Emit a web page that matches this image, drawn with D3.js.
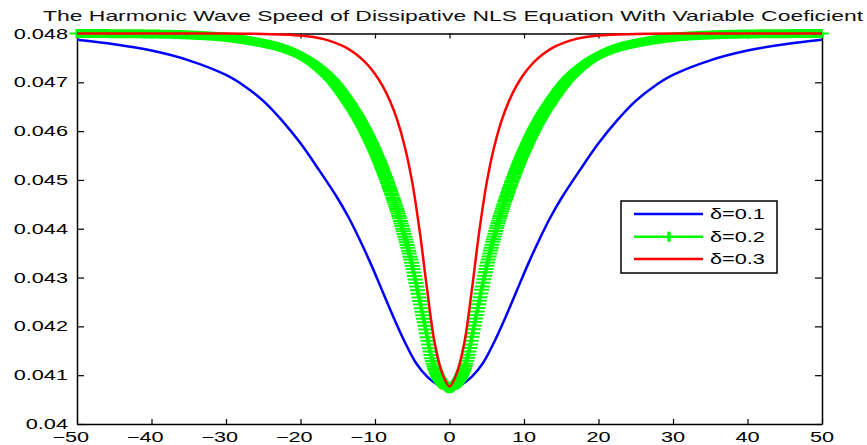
<!DOCTYPE html>
<html><head><meta charset="utf-8">
<script src="https://cdn.jsdelivr.net/npm/d3@7"></script>
<style>body{margin:0;background:#fff}svg{display:block}</style>
</head><body>
<svg id="chart" width="867" height="445"></svg>
<script>
// ---------- data ----------
const titleText = "The Harmonic Wave Speed of Dissipative NLS Equation With Variable Coeficient";
const xTickValues = [-50,-40,-30,-20,-10,0,10,20,30,40,50];
const xTickLabels = ["\u221250","\u221240","\u221230","\u221220","\u221210","0","10","20","30","40","50"];
const yTickValues = [0.040,0.041,0.042,0.043,0.044,0.045,0.046,0.047,0.048];
const yTickLabels = ["0.04","0.041","0.042","0.043","0.044","0.045","0.046","0.047","0.048"];
const legendLabels = ["\u03b4=0.1","\u03b4=0.2","\u03b4=0.3"];

const blueX = [-50,-45,-40,-35,-30,-27.5,-25,-22.5,-20,-17.5,-15,-13.5,-12,-10.5,-9,-7.5,-6,-4.5,-3,-1.5,0,1.5,3,4.5,6,7.5,9,10.5,12,13.5,15,17.5,20,22.5,25,27.5,30,35,40,45,50];
const blueY = [0.04787,0.04778,0.04765,0.04745,0.04715,0.04692,0.04662,0.04622,0.04575,0.04520,0.04462,0.04422,0.04376,0.04326,0.04272,0.04218,0.04168,0.04125,0.04097,0.04080,0.04075,0.04080,0.04097,0.04125,0.04168,0.04218,0.04272,0.04326,0.04376,0.04422,0.04462,0.04520,0.04575,0.04622,0.04662,0.04692,0.04715,0.04745,0.04765,0.04778,0.04787];

const greenX = [-50,-40,-35,-30,-25,-22,-19,-16,-14,-12,-10,-8.5,-7,-6,-5,-3.5,-2,-1,0,1,2,3.5,5,6,7,8.5,10,12,14,16,19,22,25,30,35,40,50];
const greenY = [0.04800,0.04799,0.04797,0.04792,0.04780,0.04768,0.04746,0.04708,0.04669,0.04621,0.04559,0.04502,0.04436,0.04384,0.04324,0.04216,0.04114,0.04084,0.04072,0.04084,0.04114,0.04216,0.04324,0.04384,0.04436,0.04502,0.04559,0.04621,0.04669,0.04708,0.04746,0.04768,0.04780,0.04792,0.04797,0.04799,0.04800];

const redX = [-50,-40,-30,-25,-20,-17,-14,-12,-11,-10,-9,-8,-7,-6,-5,-4,-3,-2,-1,0,1,2,3,4,5,6,7,8,9,10,11,12,14,17,20,25,30,40,50];
const redY = [0.04800,0.04800,0.04800,0.04799,0.04796,0.04789,0.04772,0.04751,0.04736,0.04717,0.04693,0.04662,0.04622,0.04568,0.04495,0.04395,0.04275,0.04167,0.04105,0.04077,0.04105,0.04167,0.04275,0.04395,0.04495,0.04568,0.04622,0.04662,0.04693,0.04717,0.04736,0.04751,0.04772,0.04789,0.04796,0.04799,0.04800,0.04800,0.04800];

// ---------- layout ----------
const FONT = "'Liberation Sans', Arial, Helvetica, sans-serif";
const SX = 1.55;
const svg = d3.select("#chart");
const x = d3.scaleLinear().domain([-50,50]).range([77,822]);
const y = d3.scaleLinear().domain([0.040,0.048]).range([424,33.5]);

const axG = svg.append("g");
axG.append("g").attr("transform",`translate(0,${y(0.040)})`)
  .call(d3.axisBottom(x).tickValues(xTickValues).tickSizeInner(-5).tickSizeOuter(0).tickFormat(""));
axG.append("g").attr("transform",`translate(0,${y(0.048)})`)
  .call(d3.axisTop(x).tickValues(xTickValues).tickSizeInner(-5).tickSizeOuter(0).tickFormat(""));
axG.append("g").attr("transform",`translate(${x(-50)},0)`)
  .call(d3.axisLeft(y).tickValues(yTickValues).tickSizeInner(-7).tickSizeOuter(0).tickFormat(""));
axG.append("g").attr("transform",`translate(${x(50)},0)`)
  .call(d3.axisRight(y).tickValues(yTickValues).tickSizeInner(-7).tickSizeOuter(0).tickFormat(""));
axG.selectAll("path.domain").attr("stroke","#000").attr("stroke-width",1.5);
axG.selectAll(".tick line").attr("stroke","#000").attr("stroke-width",1.2);

function stext(g, str, px, py, size, anchor){
  return g.append("text").attr("transform",`translate(${px},${py}) scale(${SX},1)`)
    .attr("font-family",FONT).attr("font-size",size).attr("fill","#000")
    .attr("text-anchor",anchor||"start").text(str);
}
yTickValues.forEach((v,i)=>{ stext(svg, yTickLabels[i], x(-50)-9, y(v)+5, 14, "end"); });
xTickValues.forEach((v,i)=>{
  const lab = xTickLabels[i];
  const t = stext(svg, lab, 0, 0, 14, "start");
  const full = t.node().getComputedTextLength()*SX;
  let digitsW = full;
  if (lab[0]==="\u2212"){
    const tmp = stext(svg, lab.slice(1), 0, 0, 14, "start");
    digitsW = tmp.node().getComputedTextLength()*SX; tmp.remove();
  }
  const left = x(v) + digitsW/2 - full;
  t.attr("transform",`translate(${left},441.5) scale(${SX},1)`);
});
svg.append("text").attr("x",43).attr("y",21).attr("font-family",FONT).attr("font-size",15)
  .attr("textLength",820).attr("lengthAdjust","spacingAndGlyphs").attr("fill","#111").text(titleText);

// ---------- series ----------
const line = d3.line().x(d=>x(d[0])).y(d=>y(d[1])).curve(d3.curveCatmullRom.alpha(0.5));
const blueData = blueX.map((v,i)=>[v,blueY[i]]);
const greenData = greenX.map((v,i)=>[v,greenY[i]]);
const redData = redX.map((v,i)=>[v,redY[i]]);

svg.append("path").attr("d",line(blueData)).attr("fill","none").attr("stroke","#0000ff").attr("stroke-width",2.5);

const gPath = svg.append("path").attr("d",line(greenData)).attr("fill","none").attr("stroke","#00ff00").attr("stroke-width",2.5);
(function(){
  const node = gPath.node(), L = node.getTotalLength();
  let h = "", vv = "", nextX = x(-50);
  const step = 0.745;
  for (let s=0; s<=L+0.01; s+=0.25){
    const p = node.getPointAtLength(Math.min(s,L));
    if (p.x >= nextX - 1e-6){
      h += `M${(p.x-7.5).toFixed(2)},${p.y.toFixed(2)}h15`;
      vv += `M${p.x.toFixed(2)},${(p.y-4.5).toFixed(2)}v9`;
      nextX += step;
    }
  }
  svg.append("path").attr("d",h).attr("stroke","#00ff00").attr("stroke-width",2).attr("fill","none");
  svg.append("path").attr("d",vv).attr("stroke","#00ff00").attr("stroke-width",3).attr("fill","none");
})();

svg.append("path").attr("d",line(redData)).attr("fill","none").attr("stroke","#ff0000").attr("stroke-width",2.5);

// ---------- legend ----------
const lg = svg.append("g");
lg.append("rect").attr("x",621).attr("y",201).attr("width",156).attr("height",72)
  .attr("fill","#fff").attr("stroke","#000").attr("stroke-width",1.5);
const colors = ["#0000ff","#00ff00","#ff0000"];
const rowY = [214,236.7,259];
legendLabels.forEach((lab,i)=>{
  lg.append("line").attr("x1",634).attr("x2",703).attr("y1",rowY[i]).attr("y2",rowY[i])
    .attr("stroke",colors[i]).attr("stroke-width",2.5);
  if (i===1){
    lg.append("line").attr("x1",669).attr("x2",669).attr("y1",rowY[i]-5).attr("y2",rowY[i]+5)
      .attr("stroke",colors[i]).attr("stroke-width",3.5);
  }
  stext(lg, lab, 710, rowY[i]+5, 14, "start");
});
</script>
</body></html>
